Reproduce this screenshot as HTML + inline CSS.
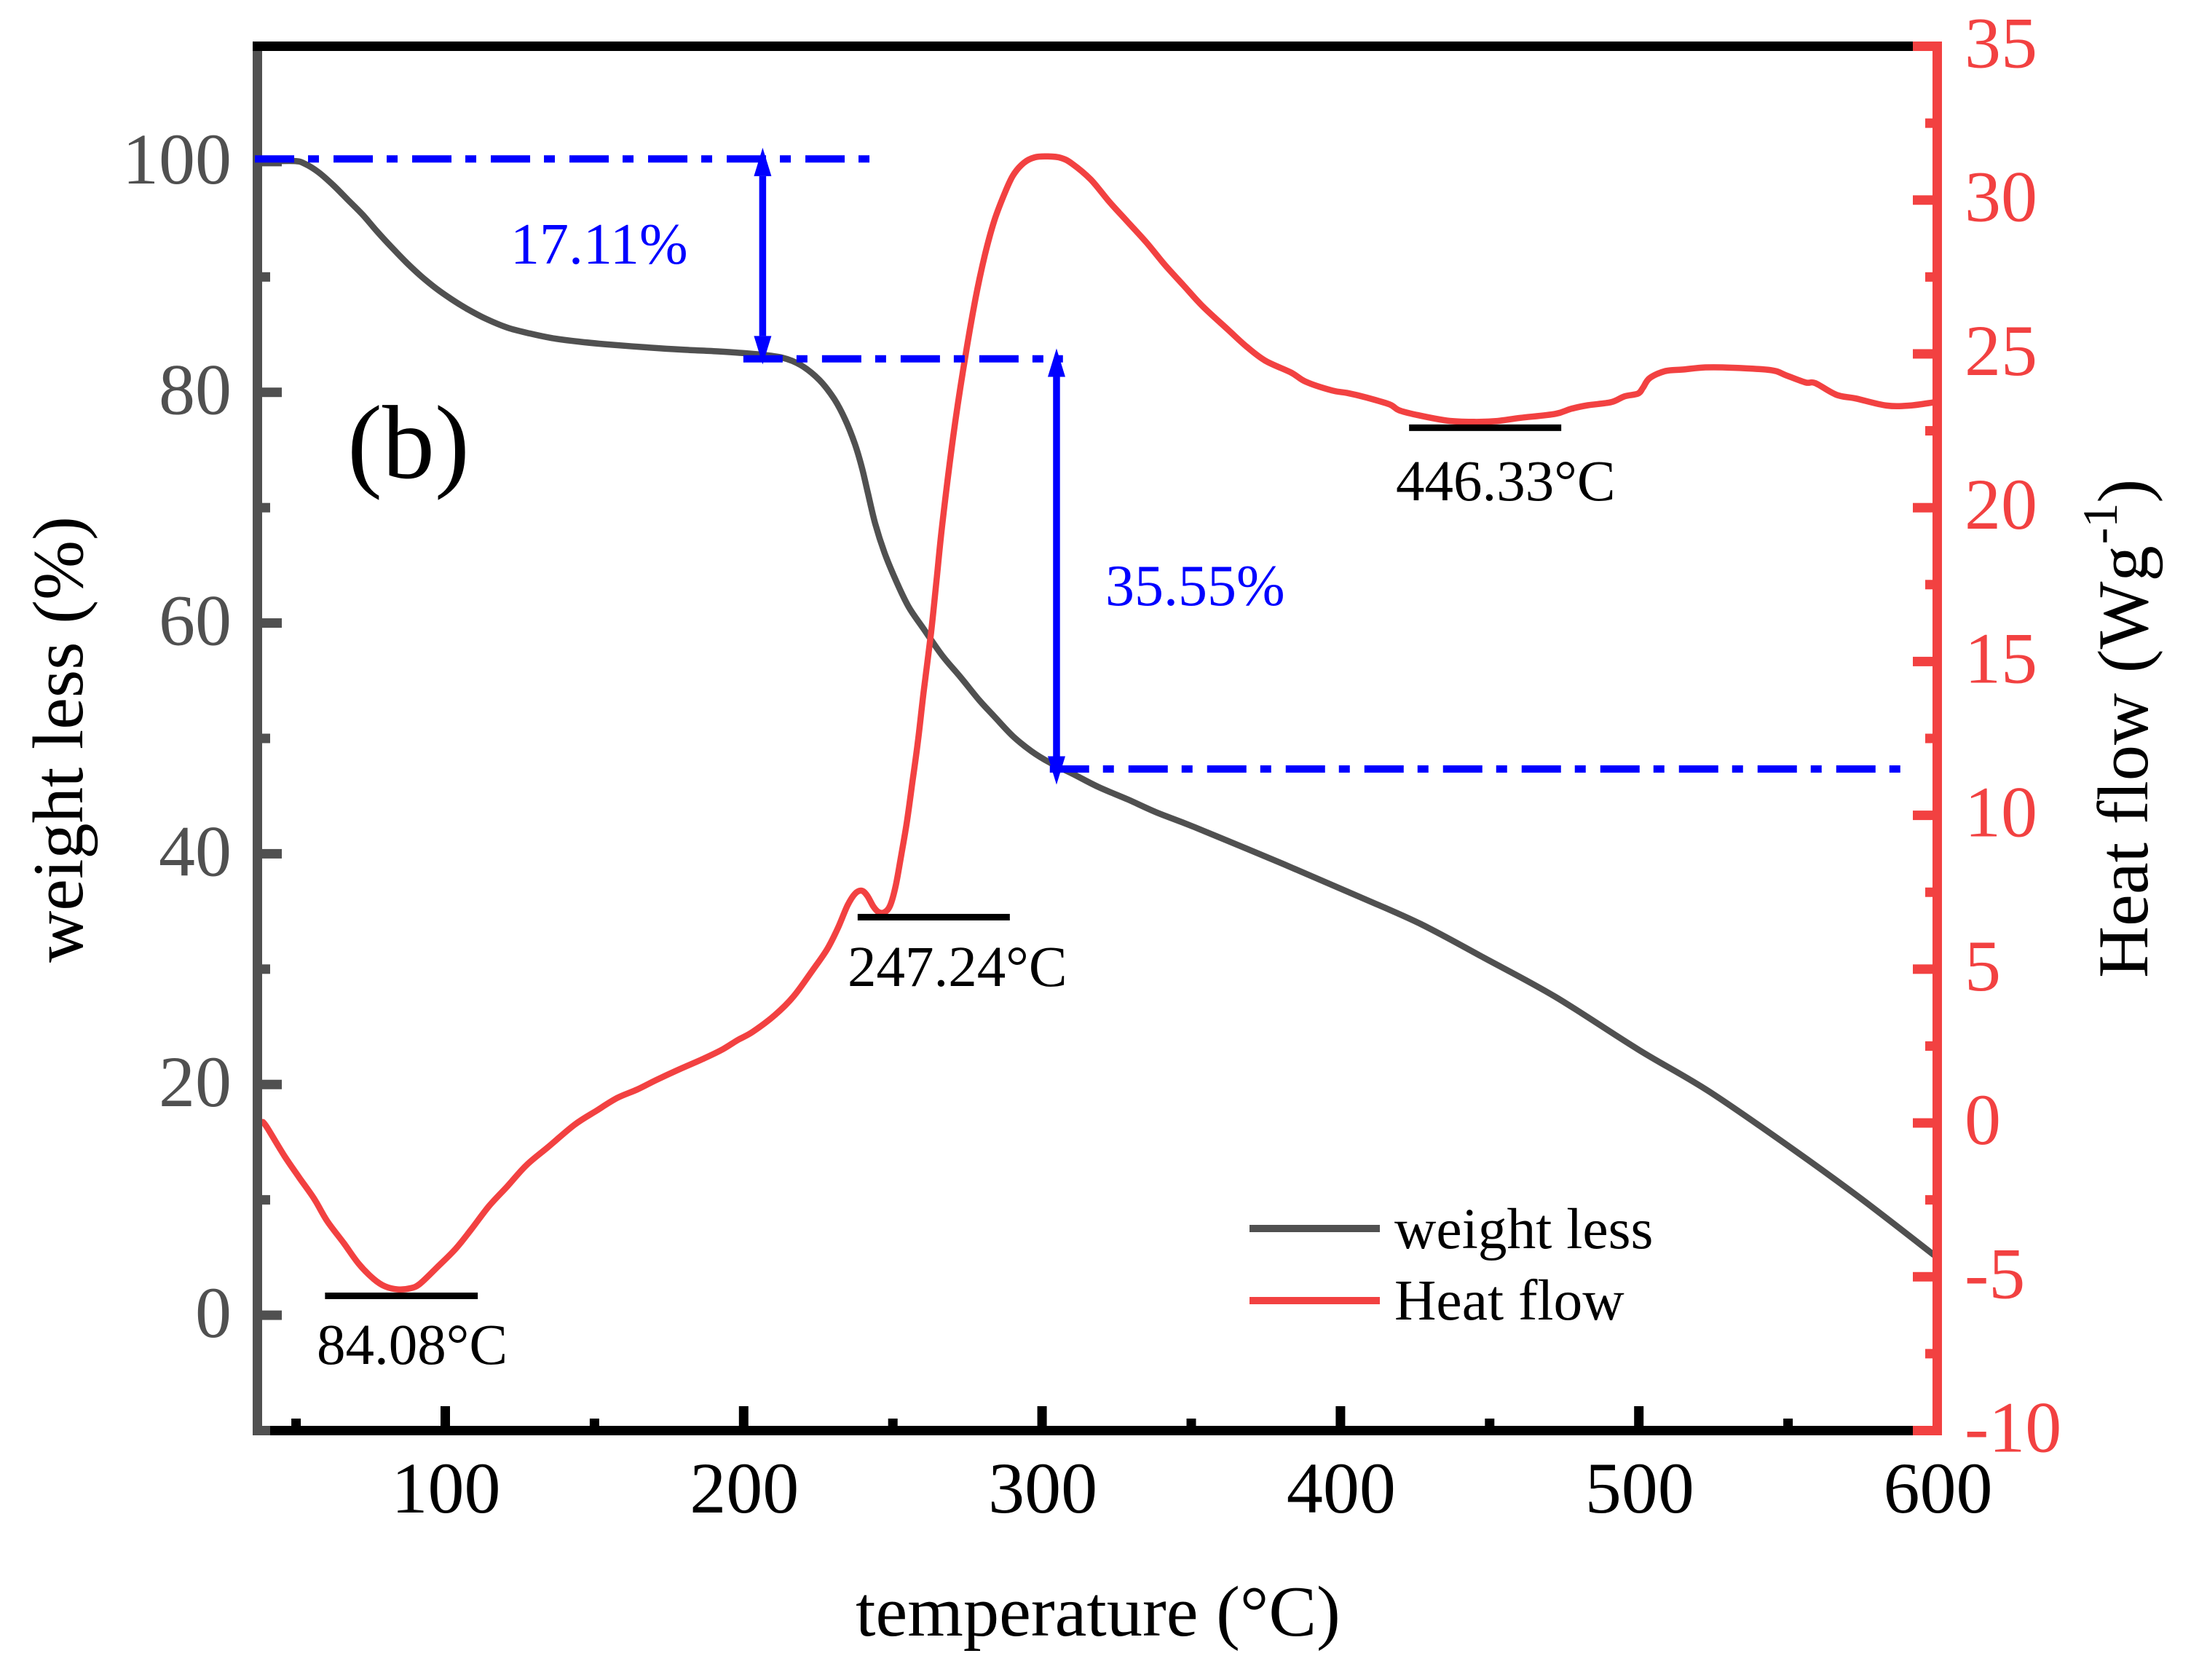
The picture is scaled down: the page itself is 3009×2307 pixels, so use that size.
<!DOCTYPE html>
<html lang="en">
<head>
<meta charset="utf-8">
<title>TGA and DSC curves</title>
<style>
html,body{margin:0;padding:0;background:#fff}
svg{display:block}
text{font-family:"Liberation Serif","Noto Serif CJK SC",serif}
</style>
</head>
<body>
<svg id="chart" xmlns="http://www.w3.org/2000/svg" width="3009" height="2307" viewBox="0 0 3009 2307">
<rect x="0" y="0" width="3009" height="2307" fill="#ffffff"/>
<g id="curves"></g>
<g id="axes"></g>
<g id="annotations"></g>
<text x="1508" y="2246" font-size="98.5" text-anchor="middle" fill="#000">temperature (°C)</text>
<text transform="translate(113,1015.5) rotate(-90)" font-size="98.5" text-anchor="middle" fill="#000">weight less (%)</text>
<text transform="translate(2949,1343) rotate(-90)" font-size="98.5" fill="#000">Heat flow <tspan dx="3">(Wg</tspan><tspan font-size="68" dy="-42" dx="2">-1</tspan><tspan dy="42">)</tspan></text>
<text x="477" y="656" font-size="144" fill="#000">(b)</text>
<text x="701" y="362" font-size="80" fill="#0000ff">17.11%</text>
<text x="1518" y="831" font-size="80" fill="#0000ff">35.55%</text>
<text x="435" y="1873" font-size="79" fill="#000">84.08°C</text>
<text x="1164" y="1354" font-size="79" fill="#000">247.24°C</text>
<text x="1917" y="687" font-size="79" fill="#000">446.33°C</text>
<g>
<rect x="1716" y="1682" width="179" height="10" fill="#505050"/>
<text x="1915" y="1714" font-size="79.5" fill="#000">weight less</text>
<rect x="1716" y="1781" width="179" height="10" fill="#f24141"/>
<text x="1915" y="1812" font-size="79.5" fill="#000">Heat flow</text>
</g>
</svg>
<script>
const weightTemps = [38,49.3,53,57.4,62.3,67.3,72.3,77.3,82.3,87.2,92.2,97.2,102.2,107.2,113.4,120.9,128.3,135.8,144.5,154.5,167,179.4,191.8,204.3,213,219.2,225.4,230.4,234.1,237.3,239.7,241.6,244.1,247.2,251,255.3,260.3,266.5,272.7,279,284,290.2,296.4,302.6,310.1,318.8,328.8,338.7,351.2,381,407,427,448,472,500,523.5,551.6,575,599];
const weightValues = [100,100.05,99.8,99.1,98,96.7,95.4,93.9,92.5,91.2,90,88.95,88.05,87.25,86.4,85.6,85.1,84.7,84.4,84.15,83.9,83.7,83.54,83.3,83,82.35,81.06,79.4,77.6,75.5,73.4,71.3,68.6,66.1,63.7,61.4,59.5,57.2,55.3,53.3,51.9,50.2,48.9,47.9,46.95,45.8,44.7,43.55,42.3,39.1,36.2,33.9,31,27.6,23,19.4,14.4,10,5.2];
const heatTemps = [38.9,40.5,46.15,51.1,56.1,60.5,66.1,71,76,79.8,84.1,88.5,91.6,97.2,103.4,108.4,114.6,120.9,127.1,134.5,143.3,150.7,157.6,164.4,170.6,178.1,186.8,193.1,198.1,203,210.5,216.7,223,228,231.65,234.8,237.3,239.5,241.4,243.5,245.3,247.2,249.1,251,252.8,254.7,256.6,258.4,260.3,262.8,264.6,266.5,270.2,274,277.7,280.8,283.9,287.1,290.2,293.9,297.6,302,306.4,310.1,316.3,322.5,328.8,335,341.2,347.4,353.7,362.4,368.6,374.8,383.5,388.5,397.2,402.2,408.7,416.4,419.6,425.4,435.8,444.8,452.6,460.3,472,477.1,482.9,490.7,495.2,499.7,501.4,503.6,508.8,514.6,522.3,531.4,544.3,549.4,555.9,559.1,566.2,572.7,583,590.8,598.5];
const heatValues = [0.03,-0.18,-1.08,-1.78,-2.47,-3.2,-3.92,-4.58,-5.07,-5.31,-5.41,-5.37,-5.22,-4.7,-4.1,-3.5,-2.71,-2.05,-1.38,-0.78,-0.06,0.4,0.81,1.09,1.39,1.73,2.1,2.4,2.7,2.96,3.51,4.11,4.95,5.65,6.35,7.07,7.45,7.55,7.39,7.03,6.85,6.85,7.07,7.73,8.7,9.79,11.11,12.4,14,15.94,17.6,19.4,22.3,24.75,26.8,28.2,29.3,30.13,30.79,31.21,31.39,31.42,31.37,31.18,30.67,29.95,29.28,28.62,27.89,27.23,26.56,25.78,25.23,24.78,24.39,24.09,23.81,23.73,23.58,23.36,23.17,23.02,22.83,22.79,22.82,22.92,23.05,23.21,23.33,23.43,23.62,23.71,23.9,24.21,24.44,24.49,24.56,24.55,24.47,24.3,24.07,24.05,23.67,23.55,23.32,23.32,23.42];
const xMajorTicks = [100,200,300,400,500,600];
const xMinorTicks = [50,150,250,350,450,550];
const leftMajorTicks = [0,20,40,60,80,100];
const leftMinorTicks = [-10,10,30,50,70,90];
const rightMajorTicks = [-10,-5,0,5,10,15,20,25,30,35];
const rightMinorTicks = [-7.5,-2.5,2.5,7.5,12.5,17.5,22.5,27.5,32.5];
const lossLevels = [100.23,82.9,47.35];
const lossLevelStarts = [36.2,199.9,302.6];
const lossLevelEnds = [242.6,307,588.4];
const lossArrowTemps = [206.37,304.85];
const lossArrowTops = [101.2,83.8];
const lossArrowBottoms = [82.42,45.99];
const peakBarStarts = [59.7,238.2,423];
const peakBarEnds = [110.9,289.2,474];
const peakBarLevels = [-5.62,6.69,22.6];

const SVGNS = 'http://www.w3.org/2000/svg';
const GREY = '#505050', RED = '#f24141', BLUE = '#0000ff', BLACK = '#000000';
const AXIS = 13;
const HEAD = 39;
const xS = t => 611.5 + (t - 100) * 4.098;
const yL = v => 1964.5 - (v + 10) * 15.842;
const yR = v => 1964.5 - (v + 10) * 42.244;
const curves = document.getElementById('curves');
const axes = document.getElementById('axes');
const annotations = document.getElementById('annotations');

function make(tag, parent, attrs) {
  const n = document.createElementNS(SVGNS, tag);
  for (const k in attrs) n.setAttribute(k, attrs[k]);
  parent.appendChild(n);
  return n;
}
function smoothPath(pts) {
  let d = 'M' + pts[0][0].toFixed(1) + ' ' + pts[0][1].toFixed(1);
  for (let i = 0; i < pts.length - 1; i++) {
    const p0 = pts[Math.max(i - 1, 0)], p1 = pts[i], p2 = pts[i + 1], p3 = pts[Math.min(i + 2, pts.length - 1)];
    const c1x = p1[0] + (p2[0] - p0[0]) / 6, c1y = p1[1] + (p2[1] - p0[1]) / 6;
    const c2x = p2[0] - (p3[0] - p1[0]) / 6, c2y = p2[1] - (p3[1] - p1[1]) / 6;
    d += 'C' + c1x.toFixed(1) + ' ' + c1y.toFixed(1) + ' ' + c2x.toFixed(1) + ' ' + c2y.toFixed(1) + ' ' + p2[0].toFixed(1) + ' ' + p2[1].toFixed(1);
  }
  return d;
}

const weightLine = make('path', curves, {d: smoothPath(weightTemps.map((t, i) => [xS(t), yL(weightValues[i])])), fill: 'none', stroke: GREY, 'stroke-width': 8.5, 'stroke-linejoin': 'round'});


const heatLine = make('path', curves, {d: smoothPath(heatTemps.map((t, i) => [xS(t), yR(heatValues[i])])), fill: 'none', stroke: RED, 'stroke-width': 8.5, 'stroke-linejoin': 'round', 'stroke-linecap': 'round'});



const topSpine = make('rect', axes, {x: 347, y: 57, width: 2280, height: AXIS, fill: BLACK});


const bottomSpine = make('rect', axes, {x: 371, y: 1958, width: 2256, height: AXIS, fill: BLACK});


const leftSpine = make('rect', axes, {x: 347, y: 70, width: AXIS, height: 1901, fill: GREY});


const rightSpine = make('rect', axes, {x: 2654, y: 57, width: AXIS, height: 1914, fill: RED});



xMajorTicks.forEach(v => {
  if (v < 600) {
    const tick = make('rect', axes, {x: xS(v) - 6.5, y: 1931, width: AXIS, height: 27, fill: BLACK});
    
    
  }
  const label = make('text', axes, {x: xS(v) + 1, y: 2077, 'font-size': 100, 'text-anchor': 'middle', fill: BLACK});
  label.textContent = String(v);
  
  
});
xMinorTicks.forEach(v => {
  const tick = make('rect', axes, {x: xS(v) - 6.5, y: 1948, width: AXIS, height: 10, fill: BLACK});
  
  
});
leftMajorTicks.forEach(v => {
  const tick = make('rect', axes, {x: 360, y: yL(v) - 6.5, width: 27, height: AXIS, fill: GREY});
  
  
  const label = make('text', axes, {x: 318, y: yL(v) + 30, 'font-size': 100, 'text-anchor': 'end', fill: GREY});
  label.textContent = String(v);
  
  
});
leftMinorTicks.forEach(v => {
  const tick = make('rect', axes, {x: 360, y: yL(v) - 6.5, width: 11, height: AXIS, fill: GREY});
  
  
});
rightMajorTicks.forEach(v => {
  const tick = make('rect', axes, {x: 2627, y: yR(v) - 6.5, width: 27, height: AXIS, fill: RED});
  
  
  const label = make('text', axes, {x: 2698, y: yR(v) + 29, 'font-size': 100, fill: RED});
  label.textContent = String(v);
  
  
});
rightMinorTicks.forEach(v => {
  const tick = make('rect', axes, {x: 2644, y: yR(v) - 6.5, width: 10, height: AXIS, fill: RED});
  
  
});

lossLevels.forEach((v, i) => {
  const dash = make('line', annotations, {x1: xS(lossLevelStarts[i]), x2: xS(lossLevelEnds[i]), y1: yL(v), y2: yL(v), stroke: BLUE, 'stroke-width': 10, 'stroke-dasharray': '54 19 15 20'});
  
  
});
lossArrowTemps.forEach((t, i) => {
  const x = xS(t), tipTop = yL(lossArrowTops[i]), tipBottom = yL(lossArrowBottoms[i]);
  const baseTop = tipTop + HEAD, baseBottom = tipBottom - HEAD;
  const shaft = make('rect', annotations, {x: x - 4.75, y: baseTop, width: 9.5, height: baseBottom - baseTop, fill: BLUE});
  
  
  const headUp = make('polygon', annotations, {points: [x, tipTop, x - 12, baseTop, x + 12, baseTop].join(' '), fill: BLUE});
  
  
  const headDown = make('polygon', annotations, {points: [x, tipBottom, x - 12, baseBottom, x + 12, baseBottom].join(' '), fill: BLUE});
  
  
});
peakBarLevels.forEach((v, i) => {
  const bar = make('rect', annotations, {x: xS(peakBarStarts[i]), y: yR(v) - 4.5, width: xS(peakBarEnds[i]) - xS(peakBarStarts[i]), height: 9, fill: BLACK});
  
  
});
</script>
</body>
</html>
